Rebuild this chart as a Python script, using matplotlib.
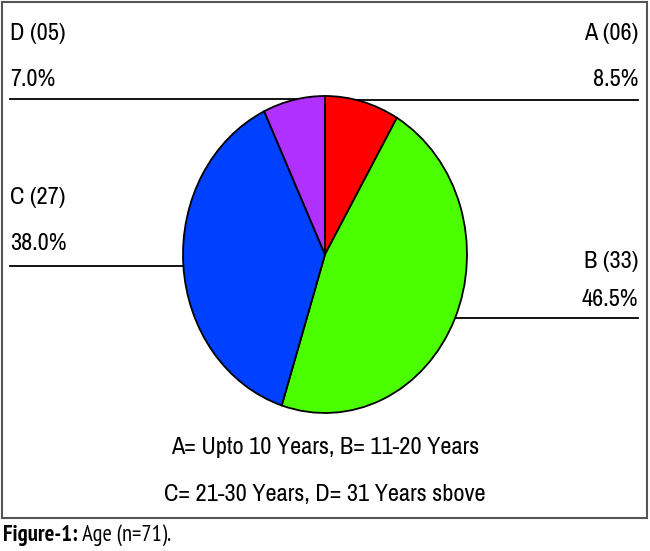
import matplotlib
matplotlib.use("Agg")
import matplotlib.pyplot as plt
from matplotlib.patches import Rectangle

# Data
categories = ["A", "B", "C", "D"]
counts = [6, 33, 27, 5]
percents = ["8.5%", "46.5%", "38.0%", "7.0%"]
colors = ["#FF0000", "#4CFF00", "#0040FF", "#B030FF"]
legend_lines = ["A= Upto 10 Years, B= 11-20 Years", "C= 21-30 Years, D= 31 Years sbove"]
caption_bold = "Figure-1:"
caption_rest = " Age (n=71)."

W, H = 650, 551
fig = plt.figure(figsize=(W / 100, H / 100), dpi=100)
fam = ["Archivo Narrow", "Liberation Sans", "DejaVu Sans"]
capfam = ["PT Sans Narrow", "Liberation Sans", "DejaVu Sans"]

# overlay axes in pixel coordinates
ov = fig.add_axes([0, 0, 1, 1])
ov.set_xlim(0, W)
ov.set_ylim(H, 0)
ov.axis("off")

# pie axes (ellipse)
cx, cy, rx, ry = 325, 254.5, 142, 158.5
pax = fig.add_axes([(cx - rx) / W, 1 - (cy + ry) / H, 2 * rx / W, 2 * ry / H])
pax.pie(counts, colors=colors, startangle=90, counterclock=False, radius=1,
        wedgeprops=dict(edgecolor="black", linewidth=1.3))
pax.set_aspect("auto")
pax.set_xlim(-1.0, 1.0)
pax.set_ylim(-1.0, 1.0)
pax.axis("off")

# frame
ov.add_patch(Rectangle((1.5, 1.5), 645.5, 516.5, fill=False, edgecolor="#555555", linewidth=1.5))

# leader lines
lw = 1.3
ov.plot([10, 325], [98.5, 98.5], color="black", lw=lw)
ov.plot([325, 638], [100, 100], color="black", lw=lw)
ov.plot([10, 183], [266, 266], color="black", lw=lw)
ov.plot([456, 638], [318, 318], color="black", lw=lw)

fs = 17.5
# labels
lab = {c: f"{c} ({n:02d})" for c, n in zip(categories, counts)}
ov.text(10, 34, lab["D"], fontsize=fs, family=fam, ha="left", va="center")
ov.text(10, 79, percents[3], fontsize=fs, family=fam, ha="left", va="center")
ov.text(638, 34, lab["A"], fontsize=fs, family=fam, ha="right", va="center")
ov.text(638, 79, percents[0], fontsize=fs, family=fam, ha="right", va="center")
ov.text(10, 197, lab["C"], fontsize=fs, family=fam, ha="left", va="center")
ov.text(10, 244, percents[2], fontsize=fs, family=fam, ha="left", va="center")
ov.text(638, 262, lab["B"], fontsize=fs, family=fam, ha="right", va="center")
ov.text(638, 300, percents[1], fontsize=fs, family=fam, ha="right", va="center")

ov.text(325, 448, legend_lines[0], fontsize=fs, family=fam, ha="center", va="center")
ov.text(325, 495, legend_lines[1], fontsize=fs, family=fam, ha="center", va="center")

# caption
t = ov.text(3, 535, caption_bold, fontsize=16.3, family=capfam, weight="bold", ha="left", va="center")
fig.canvas.draw()
bb = t.get_window_extent()
ov.text(bb.x1, 535, caption_rest, fontsize=16.3, family=capfam, ha="left", va="center")

fig.savefig("out.png", dpi=100)
